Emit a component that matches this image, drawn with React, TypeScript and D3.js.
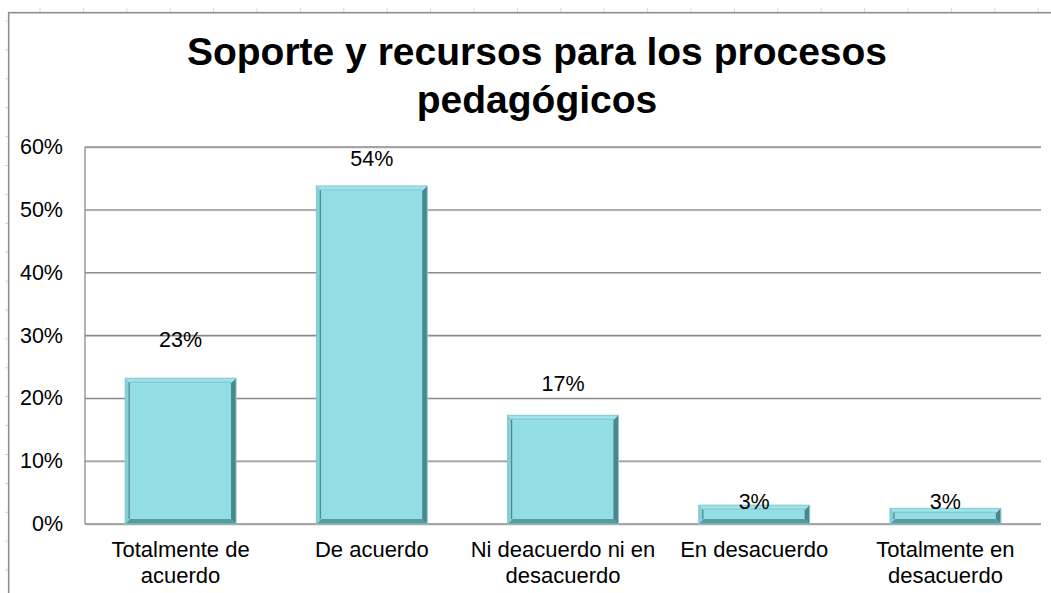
import React from "react";
import * as d3 from "d3";

const title = ["Soporte y recursos para los procesos", "pedagógicos"];
const categories = [
  "Totalmente de\nacuerdo",
  "De acuerdo",
  "Ni deacuerdo ni en\ndesacuerdo",
  "En desacuerdo",
  "Totalmente en\ndesacuerdo",
];
const values = [23.2, 53.8, 17.3, 3.0, 2.5];
const yTicks = [0, 10, 20, 30, 40, 50, 60];

// layout / style constants
const W = 1051;
const H = 593;
const plot = { left: 85, right: 1041, top: 147, bottom: 524 };
const labelDy = [-31, -20, -24, 4, 1];
const FONT = "'Liberation Sans', Arial, sans-serif";

function Bar({ x, y, w, h }: { x: number; y: number; w: number; h: number }) {
  const b = Math.min(5, h / 3, w / 3);
  const x2 = x + w;
  const y2 = y + h;
  const pts = (a: number[][]) => a.map((p) => p.join(",")).join(" ");
  return (
    <g>
      <rect x={x} y={y} width={w} height={h} fill="#93dee5" />
      <polygon points={pts([[x, y], [x2, y], [x2 - b, y + b], [x + b, y + b]])} fill="#9fe3e9" />
      <polygon points={pts([[x2, y], [x2, y2], [x2 - b, y2 - b], [x2 - b, y + b]])} fill="#4a878c" />
      <polygon points={pts([[x, y2], [x2, y2], [x2 - b, y2 - b], [x + b, y2 - b]])} fill="#5a999e" />
      <polygon points={pts([[x, y], [x, y2], [x + b, y2 - b], [x + b, y + b]])} fill="#86d0d6" />
      <line x1={x + b - 1} y1={y + b - 1} x2={x + b - 1} y2={y2 - b} stroke="#4e8a8f" strokeWidth={1.2} />
      <line x1={x + b - 1} y1={y + b - 1} x2={x2 - b} y2={y + b - 1} stroke="#7cc4ca" strokeWidth={1} />
      <rect x={x} y={y} width={w} height={h} fill="none" stroke="#86c9cf" strokeWidth={1} />
    </g>
  );
}

export default function App() {
  const x = d3
    .scaleBand<string>()
    .domain(categories)
    .range([plot.left, plot.right])
    .paddingInner(0.42)
    .paddingOuter(0.21);
  const y = d3.scaleLinear().domain([0, 60]).range([plot.bottom, plot.top]);

  const topTicks = d3.range(40, W, 43.4);
  const leftTicks = d3.range(21, H, 28.9);

  return (
    <svg
      width={W}
      height={H}
      style={{ position: "absolute", left: 0, top: 0, background: "#fff" }}
      fontFamily={FONT}
    >
      <rect x={0} y={0} width={W} height={H} fill="#fff" />
      {/* sheet grid marks */}
      {topTicks.map((t, i) => (
        <line key={"tt" + i} x1={t} x2={t} y1={8} y2={12} stroke="#d8d8d8" strokeWidth={1} />
      ))}
      {leftTicks.map((t, i) => (
        <line key={"lt" + i} x1={5} x2={8} y1={t} y2={t} stroke="#d8d8d8" strokeWidth={1} />
      ))}
      {/* chart border */}
      <rect x={9.5} y={13.5} width={W + 20} height={H + 20} fill="none" stroke="#d0d0d0" strokeWidth={1} />
      <rect x={8.5} y={12.5} width={W + 20} height={H + 20} fill="none" stroke="#8c8c8c" strokeWidth={1.2} />

      {/* title */}
      {title.map((t, i) => (
        <text
          key={"ti" + i}
          x={537}
          y={65 + i * 48}
          textAnchor="middle"
          fontSize={39}
          fontWeight="bold"
          fill="#000"
        >
          {t}
        </text>
      ))}

      {/* gridlines */}
      {yTicks.map((t) => (
        <g key={"g" + t}>
          <line x1={plot.left} x2={plot.right} y1={y(t) + 1} y2={y(t) + 1} stroke="#d6d6d6" strokeWidth={1} />
          <line x1={plot.left} x2={plot.right} y1={y(t)} y2={y(t)} stroke="#8a8a8a" strokeWidth={1.3} />
          <text x={63} y={y(t) + 7} textAnchor="end" fontSize={21.5} fill="#000">
            {t + "%"}
          </text>
        </g>
      ))}
      <line x1={plot.left} x2={plot.left} y1={plot.top} y2={plot.bottom} stroke="#8a8a8a" strokeWidth={1.3} />

      {/* bars */}
      {categories.map((c, i) => {
        const bx = x(c)!;
        const by = y(values[i]);
        return (
          <Bar key={"b" + i} x={bx} y={by} w={x.bandwidth()} h={y(0) - by} />
        );
      })}

      {/* data labels */}
      {categories.map((c, i) => (
        <text
          key={"dl" + i}
          x={x(c)! + x.bandwidth() / 2}
          y={y(values[i]) + labelDy[i]}
          textAnchor="middle"
          fontSize={21.5}
          fill="#000"
        >
          {Math.round(values[i]) + "%"}
        </text>
      ))}

      {/* category labels */}
      {categories.map((c, i) => (
        <text
          key={"cl" + i}
          x={x(c)! + x.bandwidth() / 2}
          y={557}
          textAnchor="middle"
          fontSize={22}
          fill="#000"
        >
          {c.split("\n").map((line, j) => (
            <tspan key={j} x={x(c)! + x.bandwidth() / 2} dy={j === 0 ? 0 : 26}>
              {line}
            </tspan>
          ))}
        </text>
      ))}
    </svg>
  );
}
